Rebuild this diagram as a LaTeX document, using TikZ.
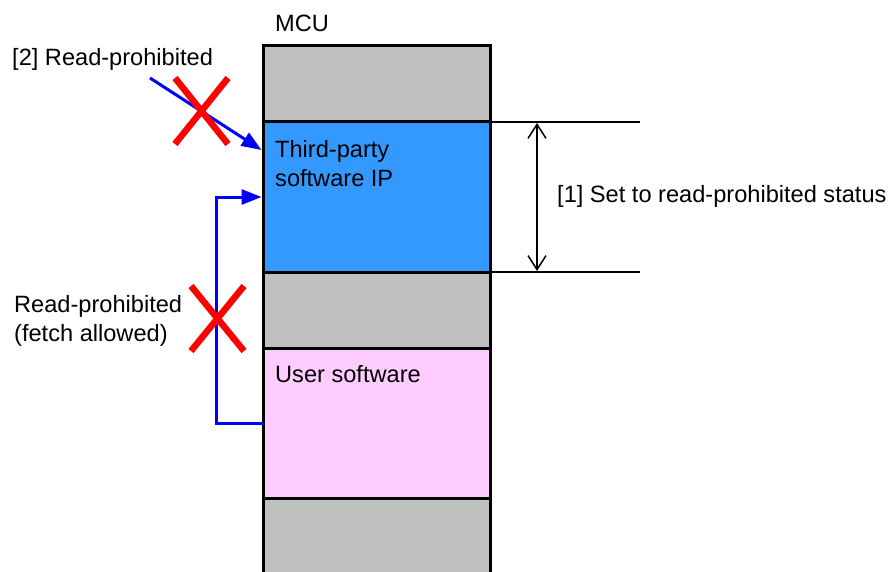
\documentclass[tikz,border=0pt]{standalone}
\usepackage{fontspec}
\setmainfont{Liberation Sans}
\usetikzlibrary{arrows.meta,calc}
\definecolor{memgray}{HTML}{C0C0C0}
\definecolor{ipblue}{HTML}{3399FF}
\definecolor{userpink}{HTML}{FFCCFF}
\tikzset{
  lbl/.style={font=\fontsize{23.6}{29}\selectfont, inner sep=0pt, anchor=base west, align=left},
  region/.style={draw=black, line width=3pt, minimum width=227pt, minimum height=150pt, inner sep=0pt, outer sep=0pt, anchor=north west},
  flow/.style={draw=blue, line width=3pt, -{Triangle[length=20pt,width=15pt]}},
  cross/.style={draw=red, line width=6.5pt},
  dim/.style={draw=black, line width=1.5pt},
}
\begin{document}
\begin{tikzpicture}[x=1pt,y=-1pt]
\useasboundingbox (0,0) rectangle (893,572);
% column background
\fill[memgray] (263,46) rectangle (490,580);
\node[region, fill=ipblue] (tp) at (263,122) {};
\node[region, fill=userpink] (us) at (263,348) {};
\draw[black, line width=3pt] (263,580) -- (263,46) -- (490,46) -- (490,580);
% texts
\node[lbl] (mcu) at (275,32) {MCU};
\node[lbl] (tptxt) at (275,186) {Third-party\\software IP};
\node[lbl] (ustxt) at (275,382) {User software};
\node[lbl] (rp2) at (12,66) {[2] Read-prohibited};
\node[lbl] (rpf) at (14,341) {Read-prohibited\\(fetch allowed)};
\node[lbl] (set) at (557,202) {[1] Set to read-prohibited status};
% dimension
\coordinate (d1) at (640,122);
\coordinate (d2) at (640,272);
\draw[dim] (tp.north east) -- (d1);
\draw[dim] (tp.south east) -- (d2);
\draw[dim, {Straight Barb[length=14pt,width=18pt]}-{Straight Barb[length=14pt,width=18pt]}] (537,123) -- (537,271);
% arrows
\coordinate (a1) at (150,78);
\draw[flow] (a1) -- ($(tp.north west)+(-1.5,28)$);
\draw[flow] (us.west) -- ++(-47,0) |- ($(tp.west)+(-1.5,0)$);
% crosses
\draw[cross] (175,78) -- (228,144);
\draw[cross] (228,78) -- (175,144);
\draw[cross] (191,286) -- (244,351);
\draw[cross] (244,286) -- (191,351);
\end{tikzpicture}
\end{document}
